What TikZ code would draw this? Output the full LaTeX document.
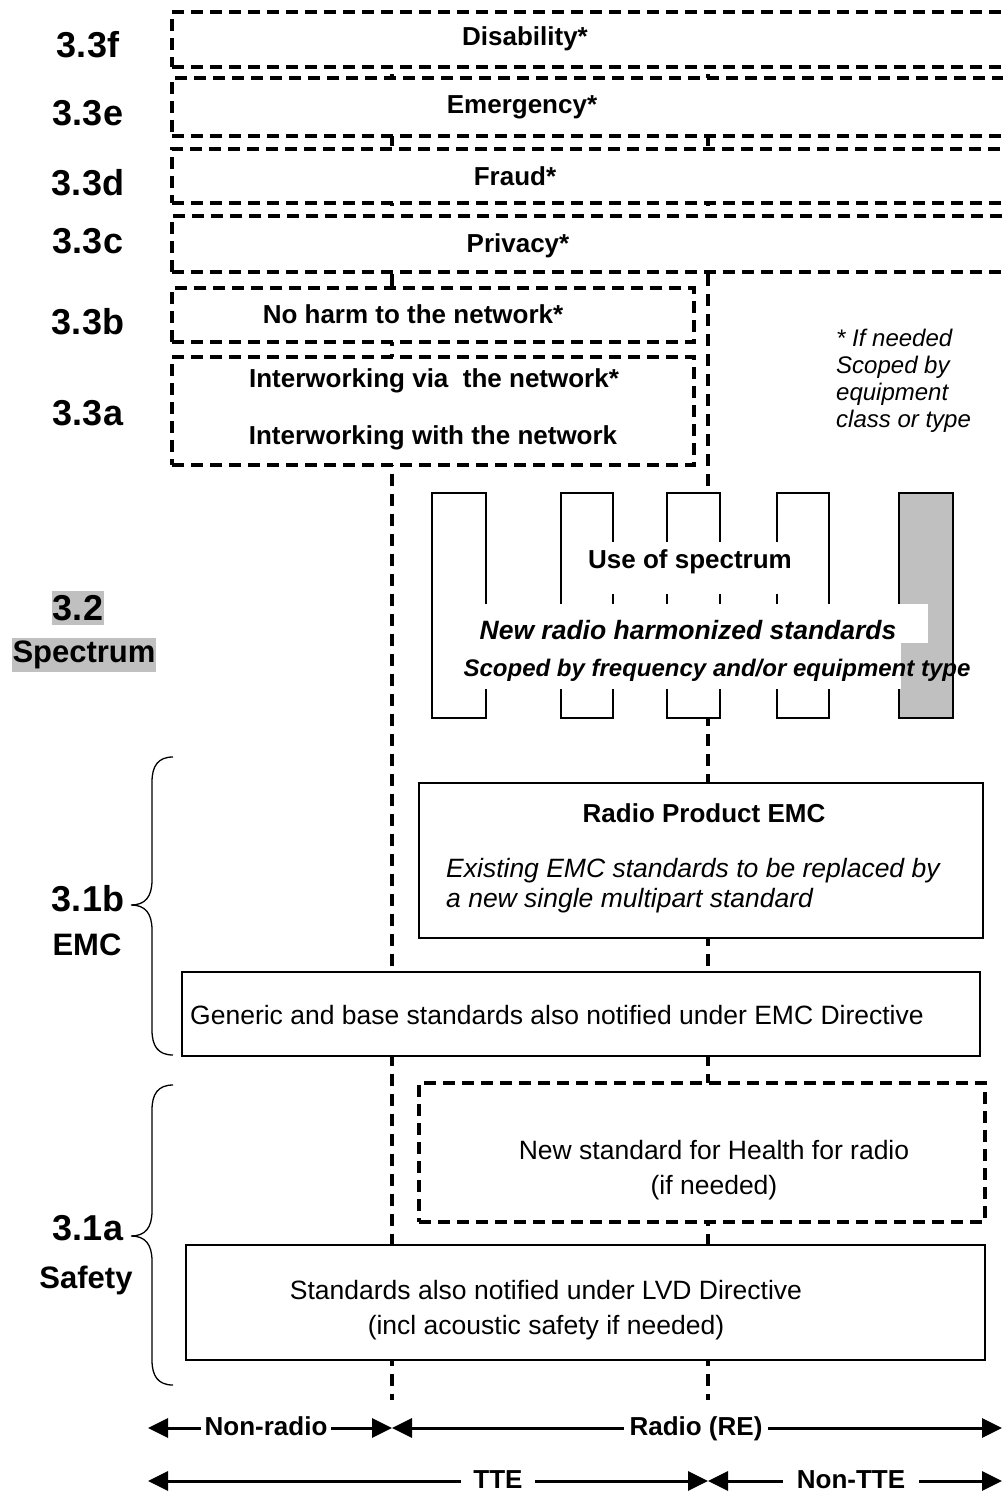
\documentclass[tikz,border=0pt]{standalone}
\usepackage{fontspec}
\setmainfont{Liberation Sans}
\usetikzlibrary{arrows.meta}
\definecolor{lgray}{HTML}{C0C0C0}
\newcommand\biglbl{\fontsize{36}{40}\selectfont\bfseries}
\newcommand\sublbl{\fontsize{31}{35}\selectfont\bfseries}
\newcommand\boxbf{\fontsize{26}{30}\selectfont\bfseries}
\newcommand\boxrm{\fontsize{26.5}{35}\selectfont}
\tikzset{
  dbox/.style={draw, fill=white, line width=3.2pt, dash pattern=on 12pt off 7pt, inner sep=0pt},
  sbox/.style={draw, fill=white, line width=2.5pt, inner sep=0pt},
  bar/.style={draw, fill=white, line width=2.5pt, inner sep=0pt, minimum height=225pt},
  vdash/.style={line width=3.2pt, dash pattern=on 12pt off 8pt},
  txt/.style={inner sep=0pt},
  arr/.style={line width=3pt, {Triangle[length=20pt,width=19pt]}-{Triangle[length=20pt,width=19pt]}},
  alab/.style={fill=white, inner ysep=1pt, text height=19pt, text depth=5pt, font=\boxbf},
  cover/.style={fill=white, draw=none}
}
\begin{document}
\begin{tikzpicture}[x=1pt,y=-1pt]
\useasboundingbox (0,0) rectangle (1002,1494);
% vertical dashed separators
\coordinate (v1t) at (392,14);
\coordinate (v1b) at (392,1400);
\coordinate (v2t) at (708,14);
\coordinate (v2b) at (708,1400);
\draw[vdash] (v1t) -- (v1b);
\draw[vdash] (v2t) -- (v2b);
% top dashed boxes
\node[dbox, minimum width=843pt, minimum height=55pt] (bf) at (593.5,39.5) {};
\node[dbox, minimum width=843pt, minimum height=58pt] (be) at (593.5,107) {};
\node[dbox, minimum width=843pt, minimum height=54pt] (bd) at (593.5,176) {};
\node[dbox, minimum width=843pt, minimum height=56pt] (bc) at (593.5,244) {};
\node[dbox, minimum width=522pt, minimum height=54pt] (bb) at (433,315) {};
\node[dbox, minimum width=522pt, minimum height=108pt] (ba) at (433,411) {};
\node[txt, font=\boxbf] (tf) at (525,39) {Disability*};
\node[txt, font=\boxbf] (te) at (522,107) {Emergency*};
\node[txt, font=\boxbf] (td) at (515,176) {Fraud*};
\node[txt, font=\boxbf] (tc) at (518,246) {Privacy*};
\node[txt, font=\boxbf] (tb) at (413,314) {No harm to the network*};
\node[txt, font=\boxbf] (ta1) at (434,381) {Interworking via\ \ the network*};
\node[txt, font=\boxbf] (ta2) at (433,438) {Interworking with the network};
% note
\node[txt, anchor=west, align=left, font=\fontsize{24}{27}\selectfont\itshape] (note) at (836,381) {* If needed\\Scoped by\\equipment\\class or type};
% spectrum bars
\node[bar, minimum width=54pt] (s1) at (459,605.5) {};
\node[bar, minimum width=52pt] (s2) at (587,605.5) {};
\node[bar, minimum width=53pt] (s3) at (693.5,605.5) {};
\node[bar, minimum width=52pt] (s4) at (803,605.5) {};
\node[bar, minimum width=54pt, fill=lgray] (s5) at (926,605.5) {};
\fill[cover] (582,542) rectangle (800,594);
\fill[cover] (470,604) rectangle (928,643);
\fill[cover] (460,643) rectangle (901,689);
\node[txt, font=\boxbf] (use) at (690,562) {Use of spectrum};
\node[txt, font=\fontsize{26.5}{30}\selectfont\bfseries\itshape] (newr) at (688,630) {New radio harmonized standards};
\node[txt, font=\fontsize{24}{28}\selectfont\bfseries\itshape] (scop) at (717,670) {Scoped by frequency and/or equipment type};
% EMC region
\node[sbox, minimum width=564pt, minimum height=155pt] (emc) at (701,860.5) {};
\node[txt, font=\boxbf] (emct) at (704,813) {Radio Product EMC};
\node[txt, anchor=west, align=left, font=\fontsize{26.5}{30}\selectfont\itshape] (emci) at (446,886) {Existing EMC standards to be replaced by\\a new single multipart standard};
\node[sbox, minimum width=798pt, minimum height=84pt] (gen) at (581,1014) {};
\node[txt, anchor=west, font=\boxrm] (gent) at (190,1015) {Generic and base standards also notified under EMC Directive};
% safety region
\node[dbox, minimum width=566pt, minimum height=139pt] (hlth) at (702,1152.5) {};
\node[txt, align=center, font=\boxrm] (hlt) at (714,1170) {New standard for Health for radio\\(if needed)};
\node[sbox, minimum width=799pt, minimum height=115pt] (lvd) at (585.5,1302.5) {};
\node[txt, align=center, font=\boxrm] (lvdt) at (546,1310) {Standards also notified under LVD Directive\\(incl acoustic safety if needed)};
% left labels
\node[txt, font=\biglbl] (l3f) at (88,45) {3.3f};
\node[txt, font=\biglbl] (l3e) at (88,113) {3.3e};
\node[txt, font=\biglbl] (l3d) at (88,183) {3.3d};
\node[txt, font=\biglbl] (l3c) at (88,241) {3.3c};
\node[txt, font=\biglbl] (l3b) at (88,322) {3.3b};
\node[txt, font=\biglbl] (l3a) at (88,413) {3.3a};
\node[fill=lgray, inner xsep=1pt, inner ysep=4pt, font=\biglbl] (l32) at (78,608) {3.2};
\node[fill=lgray, inner xsep=1pt, inner ysep=3pt, font=\sublbl] (lsp) at (84,655) {Spectrum};
\node[txt, font=\biglbl] (l1b) at (88,899) {3.1b};
\node[txt, font=\sublbl] (lemc) at (87,945) {EMC};
\node[txt, font=\biglbl] (l1a) at (88,1228) {3.1a};
\node[txt, font=\sublbl] (lsaf) at (86,1280) {Safety};
% braces
\draw[line width=1.3pt] (173,757) .. controls (158,757) and (152,766) .. (152,782) -- (152,880)
  .. controls (152,897) and (145,905) .. (131,905) .. controls (145,905) and (152,913) .. (152,930)
  -- (152,1030) .. controls (152,1046) and (158,1055) .. (173,1055);
\draw[line width=1.3pt] (173,1085) .. controls (158,1085) and (152,1094) .. (152,1110) -- (152,1211)
  .. controls (152,1228) and (145,1236) .. (131,1236) .. controls (145,1236) and (152,1244) .. (152,1261)
  -- (152,1360) .. controls (152,1376) and (158,1385) .. (173,1385);
% bottom arrows
\coordinate (r1a) at (148,1428);
\coordinate (r1b) at (392,1428);
\coordinate (r1c) at (1002,1428);
\coordinate (r2a) at (148,1481);
\coordinate (r2b) at (708,1481);
\coordinate (r2c) at (1002,1481);
\draw[arr] (r1a) -- (r1b);
\draw[arr] (r1b) -- (r1c);
\draw[arr] (r2a) -- (r2b);
\draw[arr] (r2b) -- (r2c);
\node[alab, inner xsep=4pt] (nrad) at (266,1428) {Non-radio};
\node[alab, inner xsep=6pt] (rad) at (696,1428) {Radio (RE)};
\node[alab, inner xsep=12pt] (tte) at (498,1481) {TTE};
\node[alab, inner xsep=14pt] (ntte) at (851,1481) {Non-TTE};
\end{tikzpicture}
\end{document}
